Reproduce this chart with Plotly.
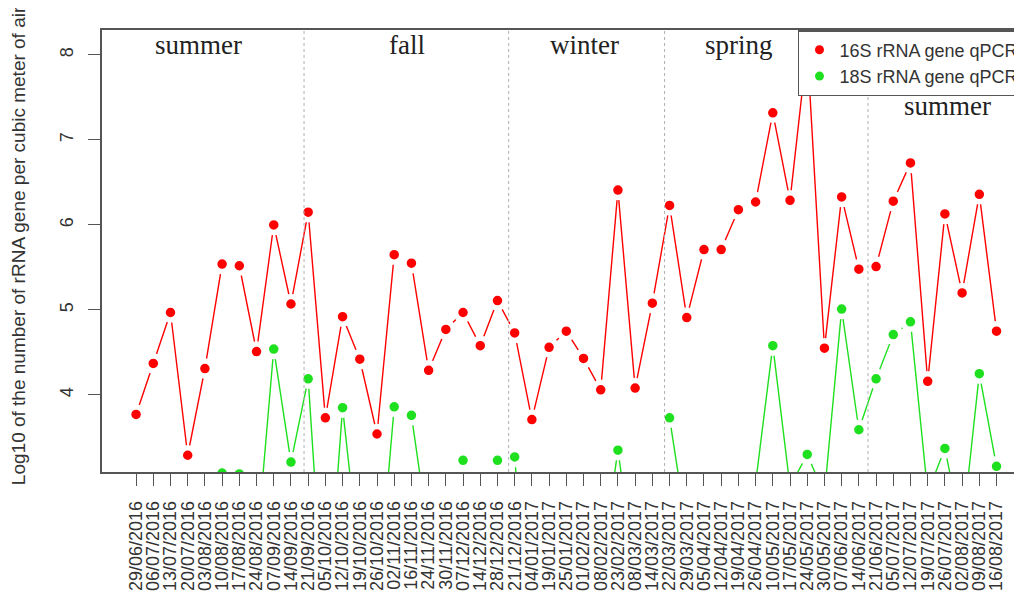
"""Weekly air samples: 16S / 18S rRNA gene qPCR (log10 copies per m3), by season."""

import plotly.graph_objects as go

dates = [
    "29/06/2016", "06/07/2016", "13/07/2016", "20/07/2016", "03/08/2016",
    "10/08/2016", "17/08/2016", "24/08/2016", "07/09/2016", "14/09/2016",
    "21/09/2016", "05/10/2016", "12/10/2016", "19/10/2016", "26/10/2016",
    "02/11/2016", "16/11/2016", "24/11/2016", "30/11/2016", "07/12/2016",
    "14/12/2016", "28/12/2016", "21/12/2016", "04/01/2017", "19/01/2017",
    "25/01/2017", "01/02/2017", "08/02/2017", "23/02/2017", "08/03/2017",
    "14/03/2017", "22/03/2017", "29/03/2017", "05/04/2017", "12/04/2017",
    "19/04/2017", "26/04/2017", "10/05/2017", "17/05/2017", "24/05/2017",
    "30/05/2017", "07/06/2017", "14/06/2017", "21/06/2017", "05/07/2017",
    "12/07/2017", "19/07/2017", "26/07/2017", "02/08/2017", "09/08/2017",
    "16/08/2017",
]

gene_16s = [
    3.77, 4.37, 4.97, 3.29, 4.31, 5.54, 5.52, 4.51, 6.00, 5.07,
    6.15, 3.73, 4.92, 4.42, 3.54, 5.65, 5.55, 4.29, 4.77, 4.97,
    4.58, 5.11, 4.73, 3.71, 4.56, 4.75, 4.43, 4.06, 6.41, 4.08,
    5.08, 6.23, 4.91, 5.71, 5.71, 6.18, 6.27, 7.32, 6.29, 8.10,
    4.55, 6.33, 5.48, 5.51, 6.28, 6.73, 4.16, 6.13, 5.20, 6.36,
    4.75,
]

# many 18S values sit below the plotted range; None where nothing is readable
gene_18s = [
    None, None, None, None, None, 3.08, 3.07, 2.18, 4.54, 3.21,
    4.19, 1.10, 3.85, 2.00, 1.50, 3.86, 3.76, 2.35, None, 3.23,
    None, 3.23, 3.27, 0.80, None, None, None, 1.94, 3.35, 1.90,
    None, 3.73, 2.42, None, None, None, 2.96, 4.58, 2.92, 3.30,
    2.83, 5.01, 3.59, 4.19, 4.71, 4.86, 2.85, 3.37, 2.37, 4.25,
    3.16,
]

season_names = ["summer", "fall", "winter", "spring", "summer"]
season_label_x = [3.63, 15.75, 26.06, 35.04, 47.15]
season_label_y = [8.12, 8.12, 8.12, 8.12, 7.40]
season_breaks = [9.76, 21.65, 30.71, 42.53]

y_ticks = [4, 5, 6, 7, 8]

RED = "#ff0000"
GREEN = "#1ee01e"
SANS = "Liberation Sans, Arial, sans-serif"
SERIF = "Liberation Serif, Times New Roman, serif"

x = list(range(len(dates)))

fig = go.Figure()

# white marker ring mimics R's type="b" gaps around the points
for name, vals, col in [
    ("16S rRNA gene qPCR", gene_16s, RED),
    ("18S rRNA gene qPCR", gene_18s, GREEN),
]:
    fig.add_trace(
        go.Scatter(
            x=x,
            y=vals,
            mode="lines+markers",
            line={"color": col, "width": 1.4},
            marker={"color": col, "size": 15, "line": {"color": "white", "width": 5.5}},
            showlegend=False,
            hoverinfo="skip",
        )
    )
    fig.add_trace(
        go.Scatter(
            x=[None],
            y=[None],
            mode="markers",
            marker={"color": col, "size": 9},
            name=name,
        )
    )

for b in season_breaks:
    fig.add_shape(
        type="line",
        x0=b,
        x1=b,
        y0=0,
        y1=1,
        xref="x",
        yref="paper",
        line={"color": "#b0b0b0", "width": 1, "dash": "dot"},
        layer="above",
    )

for name, sx, sy in zip(season_names, season_label_x, season_label_y):
    fig.add_annotation(
        x=sx,
        y=sy,
        text=name,
        showarrow=False,
        font={"family": SERIF, "size": 27, "color": "#222"},
    )

fig.add_annotation(
    text="Log10 of the number of rRNA gene per cubic meter of air",
    xref="paper",
    yref="paper",
    x=-0.0913,
    xanchor="center",
    y=0.511,
    yanchor="middle",
    textangle=-90,
    showarrow=False,
    font={"family": SANS, "size": 19, "color": "#333"},
)

fig.update_xaxes(
    range=[-1.98, 51.48],
    tickmode="array",
    tickvals=x,
    ticktext=dates,
    tickangle=-90,
    ticks="outside",
    ticklen=12,
    tickcolor="#555",
    ticklabelstandoff=8,
    tickfont={"family": SANS, "size": 18, "color": "#333"},
    showline=True,
    linecolor="#555",
    linewidth=1.5,
    mirror=True,
    showgrid=False,
    zeroline=False,
    automargin=False,
)
fig.update_yaxes(
    range=[3.093, 8.294],
    tickmode="array",
    tickvals=y_ticks,
    tickangle=-90,
    ticks="outside",
    ticklen=12,
    tickcolor="#555",
    ticklabelstandoff=8,
    tickfont={"family": SANS, "size": 18, "color": "#333"},
    showline=True,
    linecolor="#555",
    linewidth=1.5,
    showgrid=False,
    zeroline=False,
    automargin=False,
)

# the page body adds 8px on the top and left, so the figure is sized to fill the rest;
# the legend runs off the right edge as in the original, so margins must not expand
fig.update_layout(
    width=1014,
    height=586,
    margin={"l": 94, "r": 0, "t": 22, "b": 122, "autoexpand": False},
    plot_bgcolor="white",
    paper_bgcolor="white",
    legend={
        "x": 0.7565,
        "y": 1,
        "xanchor": "left",
        "yanchor": "top",
        "bgcolor": "white",
        "bordercolor": "#555",
        "borderwidth": 1.5,
        "font": {"family": SANS, "size": 18, "color": "#333"},
        "tracegroupgap": 0,
        "itemwidth": 30,
    },
)

fig.write_html("out.html")
